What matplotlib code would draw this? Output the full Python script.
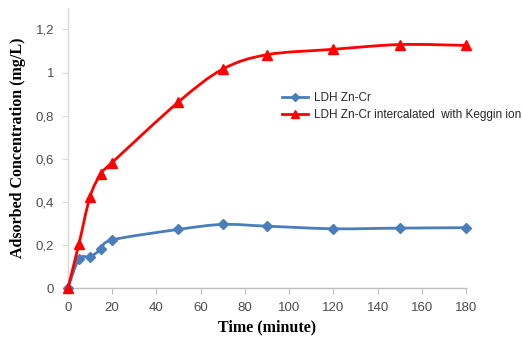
import matplotlib
matplotlib.use("Agg")
import matplotlib.pyplot as plt
from matplotlib.path import Path
from matplotlib.patches import PathPatch
from matplotlib.lines import Line2D
import numpy as np

time = [0, 5, 10, 15, 20, 50, 70, 90, 120, 150, 180]
ldh = [0.0, 0.136, 0.146, 0.18, 0.224, 0.273, 0.296, 0.288, 0.276, 0.279, 0.281]
ldh_keggin = [0.0, 0.205, 0.424, 0.532, 0.583, 0.864, 1.016, 1.083, 1.108, 1.13, 1.126]
series_labels = ["LDH Zn-Cr", "LDH Zn-Cr intercalated  with Keggin ion"]
xticks = [0, 20, 40, 60, 80, 100, 120, 140, 160, 180]
yticks = [0, 0.2, 0.4, 0.6, 0.8, 1.0, 1.2]
ytick_labels = ["0", "0,2", "0,4", "0,6", "0,8", "1", "1,2"]

BLUE = "#4A7EBB"
RED = "#FF0000"

def smooth_path(xs, ys):
    pts = np.column_stack([xs, ys]).astype(float)
    n = len(pts)
    verts = [pts[0]]
    codes = [Path.MOVETO]
    for i in range(n - 1):
        p0 = pts[i - 1] if i > 0 else pts[i]
        p1 = pts[i]
        p2 = pts[i + 1]
        p3 = pts[i + 2] if i + 2 < n else pts[i + 1]
        c1 = p1 + (p2 - p0) / 6.0
        c2 = p2 - (p3 - p1) / 6.0
        verts += [c1, c2, p2]
        codes += [Path.CURVE4] * 3
    return Path(verts, codes)

fig = plt.figure(figsize=(5.22, 3.43), dpi=100)
ax = fig.add_axes([0.130, 0.1595, 0.763, 0.8175])

for ys, col, mk, ms, z in [(ldh, BLUE, "D", 5.5, 3), (ldh_keggin, RED, "^", 7.5, 4)]:
    patch = PathPatch(smooth_path(time, ys), facecolor="none", edgecolor=col,
                      lw=2.0, zorder=z, clip_on=False)
    ax.add_patch(patch)
    ax.plot(time, ys, linestyle="none", marker=mk, ms=ms, color=col,
            zorder=z + 0.5, clip_on=False)

ax.set_xlim(0, 180)
ax.set_ylim(0, 1.3)
ax.set_xticks(xticks)
ax.set_xticklabels([str(t) for t in xticks])
ax.set_yticks(yticks)
ax.set_yticklabels(ytick_labels)

for s in ["top", "right"]:
    ax.spines[s].set_visible(False)
ax.spines["left"].set_color("#D9D9D9")
ax.spines["bottom"].set_color("#BFBFBF")
ax.spines["left"].set_linewidth(1.0)
ax.spines["bottom"].set_linewidth(1.0)
ax.tick_params(axis="x", direction="out", length=4, color="#BFBFBF", pad=6,
               labelsize=9.5, labelcolor="#4D4D4D")
ax.tick_params(axis="y", direction="out", length=4, color="#D9D9D9", pad=6,
               labelsize=9.5, labelcolor="#4D4D4D")
for lab in ax.get_xticklabels() + ax.get_yticklabels():
    lab.set_family("Liberation Sans")

ax.set_xlabel("Time (minute)", family="Liberation Serif", fontweight="bold",
              fontsize=11.5, labelpad=4)
ax.set_ylabel("Adsorbed Concentration (mg/L)", family="Liberation Serif",
              fontweight="bold", fontsize=11.5, labelpad=7)

handles = [Line2D([], [], color=BLUE, lw=2.0, marker="D", ms=4),
           Line2D([], [], color=RED, lw=2.0, marker="^", ms=5.5)]
leg = ax.legend(handles, series_labels, loc="upper left",
                bbox_to_anchor=(277 / 522, 1 - 87 / 343), bbox_transform=fig.transFigure,
                frameon=False, handlelength=2.2, handletextpad=0.5, labelspacing=0.45,
                prop={"family": "Liberation Sans", "size": 8.5}, borderaxespad=0)
for t in leg.get_texts():
    t.set_color("#262626")

fig.savefig("out.png", dpi=100)
